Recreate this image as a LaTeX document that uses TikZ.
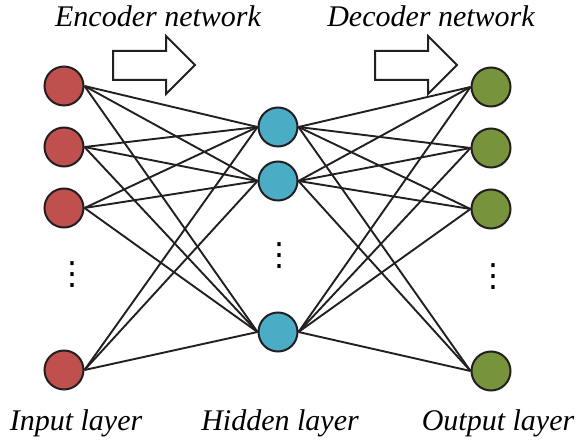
\documentclass[tikz,border=0pt]{standalone}
\usepackage{fontspec}
\setmainfont{Liberation Serif}
\newfontfamily\symfont{DejaVu Sans}
\definecolor{nred}{HTML}{C0504D}
\definecolor{nblue}{HTML}{4BACC6}
\definecolor{ngreen}{HTML}{77933C}
\definecolor{ink}{HTML}{231F20}
\begin{document}
\begin{tikzpicture}[x=1pt,y=-1pt,
 neuron/.style={circle,draw=ink,line width=2pt,minimum size=39pt,inner sep=0pt},
 conn/.style={draw=ink,line width=1.9pt},
 lbl/.style={font=\fontsize{30}{34}\selectfont\itshape,inner sep=0pt,anchor=base},
 blockarrow/.style={draw=ink,line width=2pt,fill=white,line join=miter},
 dotsnode/.style={inner sep=0pt,font=\symfont\fontsize{32}{34}\selectfont}]
\useasboundingbox (0,0) rectangle (583,443);
% input layer
\node[neuron,fill=nred] (i1) at (64,86) {};
\node[neuron,fill=nred] (i2) at (64,147) {};
\node[neuron,fill=nred] (i3) at (64,208) {};
\node[neuron,fill=nred] (i4) at (64,370) {};
% hidden layer
\node[neuron,fill=nblue] (h1) at (278,127) {};
\node[neuron,fill=nblue] (h2) at (278,181) {};
\node[neuron,fill=nblue] (h3) at (278,332) {};
% output layer
\node[neuron,fill=ngreen] (o1) at (491,87) {};
\node[neuron,fill=ngreen] (o2) at (491,148) {};
\node[neuron,fill=ngreen] (o3) at (491,209) {};
\node[neuron,fill=ngreen] (o4) at (491,371) {};
% dots
\node[dotsnode] (d1) at (72,275) {⋮};
\node[dotsnode] (d2) at (279,256) {⋮};
\node[dotsnode] (d3) at (493,277) {⋮};
% connections
\foreach \a in {i1,i2,i3,i4}{
  \foreach \b in {h1,h2,h3}{
    \draw[conn] (\a.east) -- (\b.west);
  }
}
\foreach \a in {h1,h2,h3}{
  \foreach \b in {o1,o2,o3,o4}{
    \draw[conn] (\a.east) -- (\b.west);
  }
}
% block arrows
\draw[blockarrow] (113,51) -- (166,51) -- (166,36) -- (195,65) -- (166,94) -- (166,80) -- (113,80) -- cycle;
\draw[blockarrow] (375,51) -- (428,51) -- (428,36) -- (457,65) -- (428,94) -- (428,80) -- (375,80) -- cycle;
% labels
\node[lbl] (enc) at (158,27) {Encoder network};
\node[lbl] (dec) at (431,27) {Decoder network};
\node[lbl] (lin) at (76,430) {Input layer};
\node[lbl] (lhid) at (280,430) {Hidden layer};
\node[lbl] (lout) at (498,430) {Output layer};
\end{tikzpicture}
\end{document}
